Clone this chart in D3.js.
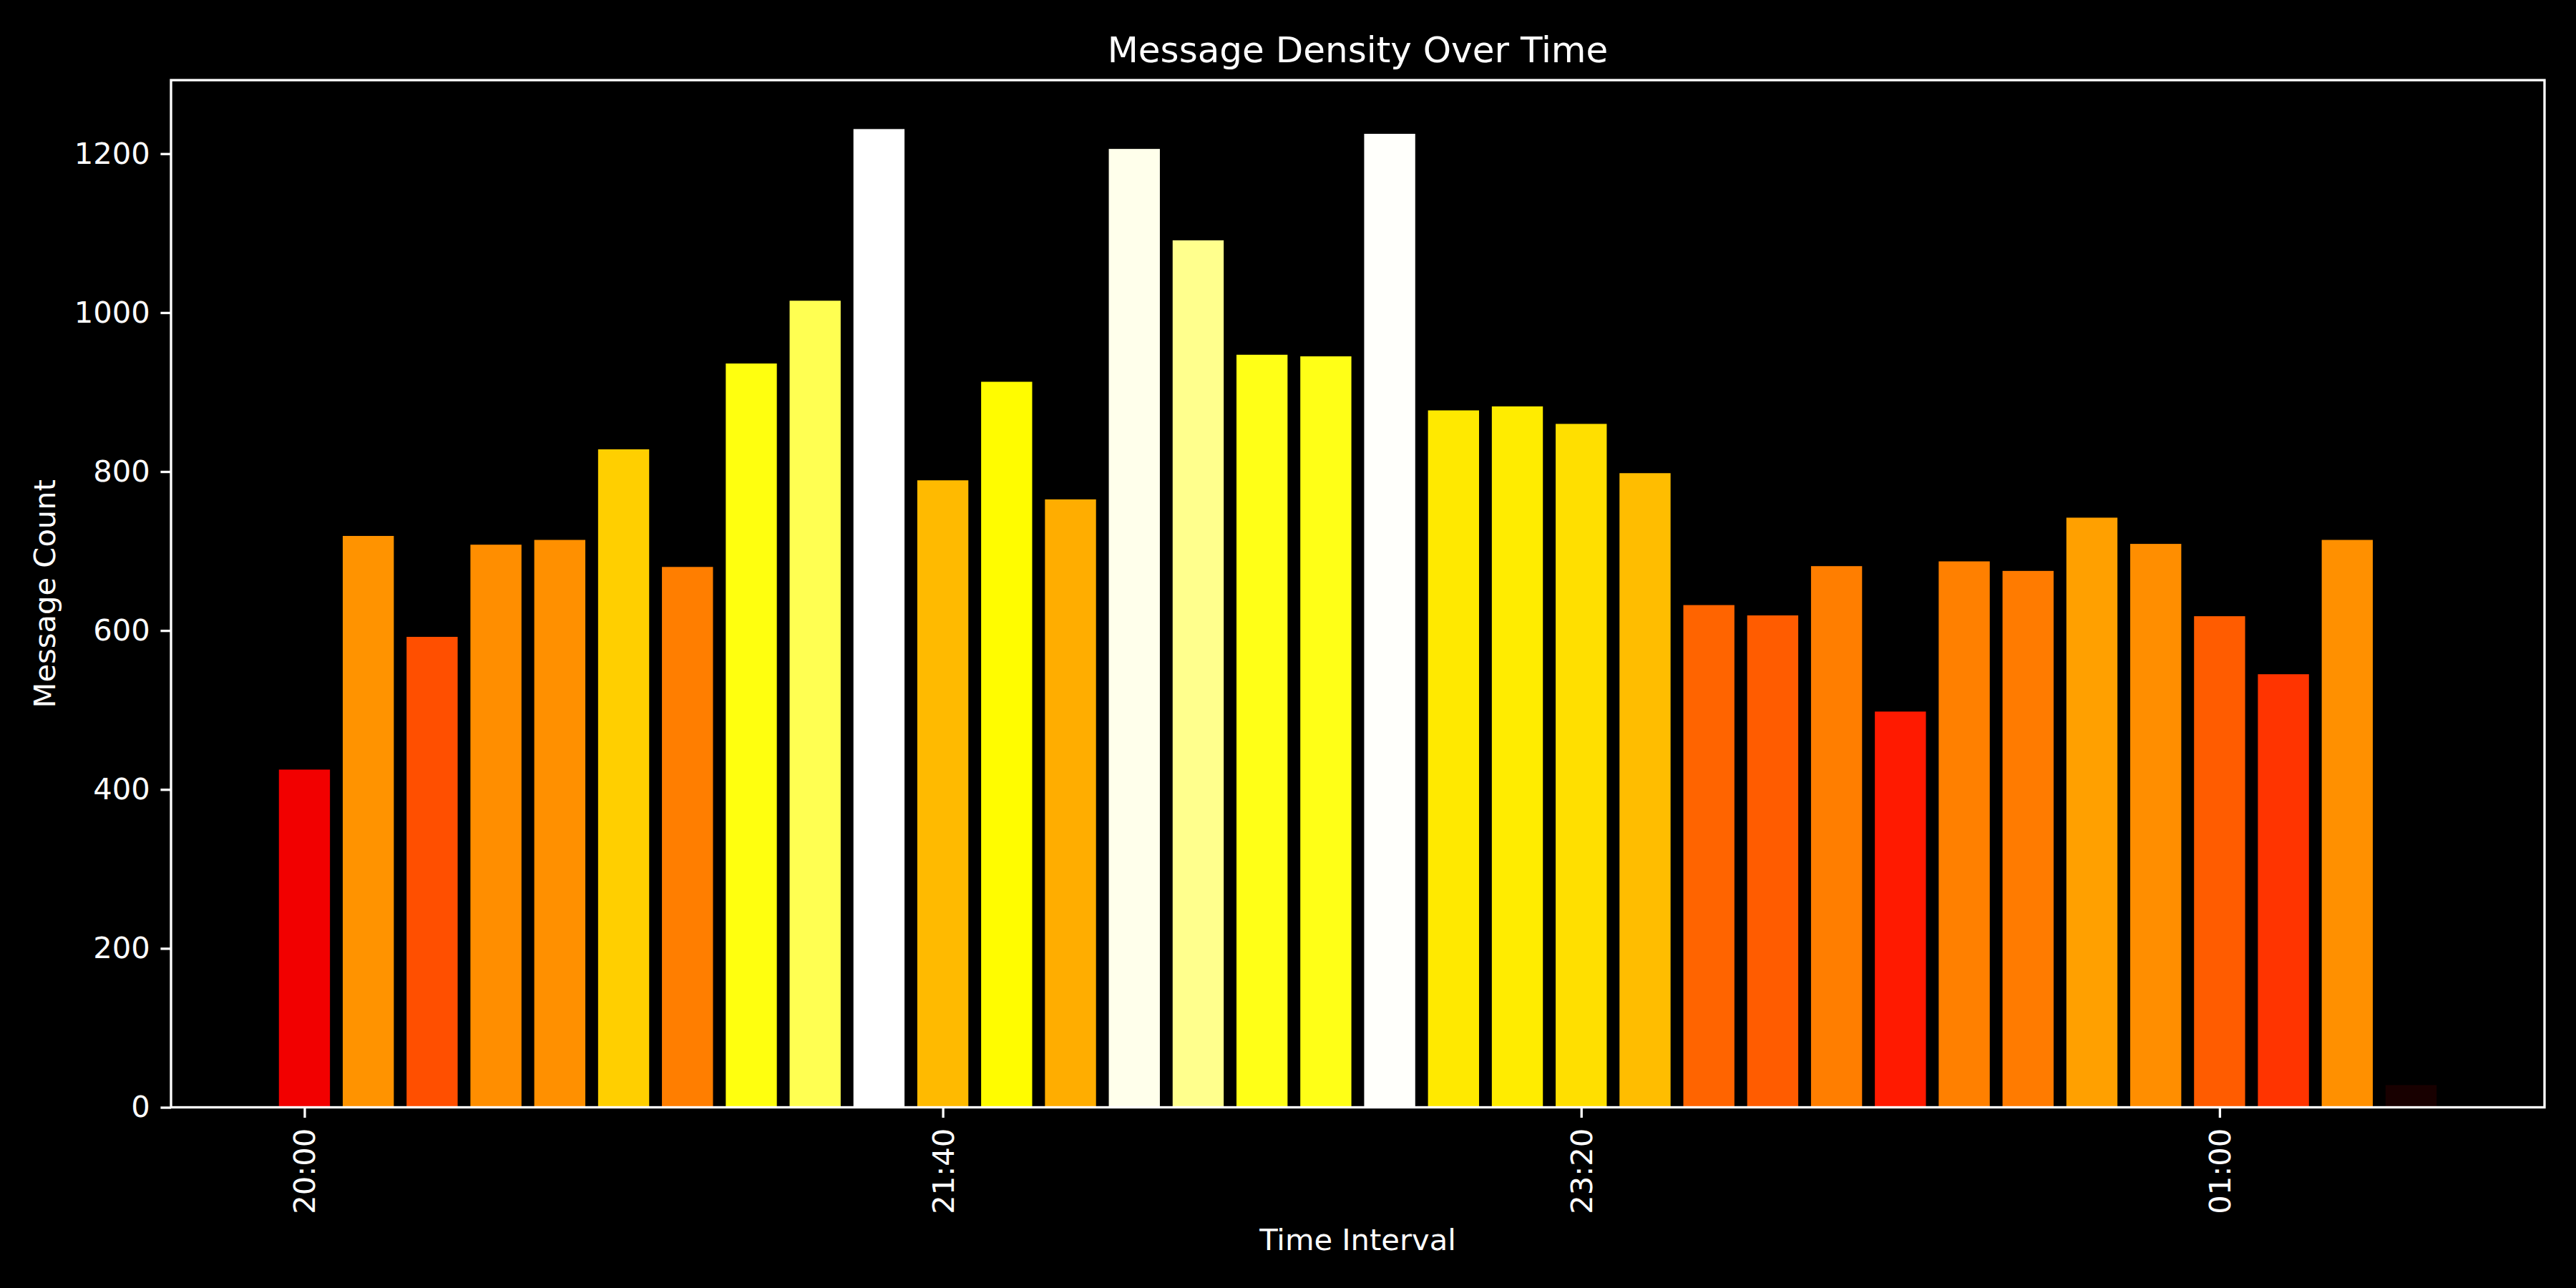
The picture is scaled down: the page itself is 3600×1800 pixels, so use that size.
<!DOCTYPE html>
<html>
<head>
<meta charset="utf-8">
<script src="https://cdn.jsdelivr.net/npm/d3@7"></script>
<style>
  body { margin: 0; background: #000; }
  text { font-family: "DejaVu Sans", sans-serif; fill: #fff; }
</style>
</head>
<body>
<div class="chart"></div>
<script>
// time buckets (10 minute intervals) and message counts
var timeLabels = ["20:00", "20:10", "20:20", "20:30", "20:40", "20:50",
  "21:00", "21:10", "21:20", "21:30", "21:40", "21:50",
  "22:00", "22:10", "22:20", "22:30", "22:40", "22:50",
  "23:00", "23:10", "23:20", "23:30", "23:40", "23:50",
  "00:00", "00:10", "00:20", "00:30", "00:40", "00:50",
  "01:00", "01:10", "01:20", "01:30"];
var messageCounts = [425, 719, 592, 708, 714, 828,
  680, 936, 1015, 1231, 789, 913,
  765, 1206, 1091, 947, 945, 1225,
  877, 882, 860, 798, 632, 619,
  681, 498, 687, 675, 742, 709,
  618, 545, 714, 28];
var xTickLabels = ["20:00", "21:40", "23:20", "01:00"];
var yTickValues = [0, 200, 400, 600, 800, 1000, 1200];

var svgWidth = 3600;
var svgHeight = 1800;
var margin = { top: 112, right: 44, bottom: 252.5, left: 239 };
var width = svgWidth - margin.left - margin.right;
var height = svgHeight - margin.top - margin.bottom;

var pt = 300 / 72; // matplotlib points -> px at 300 dpi

// parse HH:MM, times after midnight belong to the next day
var parseTime = d3.timeParse("%Y-%m-%d %H:%M");
function toDate(s) {
  var day = +s.slice(0, 2) < 12 ? "2024-01-02" : "2024-01-01";
  return parseTime(day + " " + s);
}
var data = timeLabels.map(function(t, i) {
  return { time: toDate(t), count: messageCounts[i] };
});

var step = 10 * 60 * 1000;
var first = data[0].time.getTime();
var last = data[data.length - 1].time.getTime();
// bar width 0.8 step, plus 5% margins on both sides like matplotlib
var pad = 0.4 * step + 0.05 * (last - first + 0.8 * step);

var xScale = d3.scaleTime()
  .domain([new Date(first - pad), new Date(last + pad)])
  .range([0, width]);

var maxCount = d3.max(messageCounts);
var yScale = d3.scaleLinear()
  .domain([0, maxCount * 1.05])
  .range([height, 0]);

// matplotlib "hot" colormap, 256 entries
var hotR = d3.scaleLinear().domain([0, 0.365079, 1]).range([0.0416, 1, 1]).clamp(true);
var hotG = d3.scaleLinear().domain([0, 0.365079, 0.746032, 1]).range([0, 0, 1, 1]).clamp(true);
var hotB = d3.scaleLinear().domain([0, 0.746032, 1]).range([0, 0, 1]).clamp(true);
function hot(t) {
  var i = Math.min(255, Math.floor(t * 256));
  var x = i / 255;
  return d3.rgb(Math.round(hotR(x) * 255), Math.round(hotG(x) * 255), Math.round(hotB(x) * 255)).toString();
}

var svg = d3.select(".chart")
  .append("svg")
  .attr("width", svgWidth)
  .attr("height", svgHeight)
  .style("background", "#000");

var chartGroup = svg.append("g")
  .attr("transform", `translate(${margin.left}, ${margin.top})`);

var barWidth = xScale(new Date(first + 0.8 * step)) - xScale(new Date(first));

chartGroup.selectAll("rect.bar")
  .data(data)
  .enter()
  .append("rect")
  .classed("bar", true)
  .attr("x", d => xScale(d.time) - barWidth / 2)
  .attr("y", d => yScale(d.count))
  .attr("width", barWidth)
  .attr("height", d => height - yScale(d.count))
  .attr("fill", d => hot(d.count / maxCount));

// axes
var tickLen = 3.5 * pt;
var tickW = 0.8 * pt;
var fontSize = 10 * pt;

var bottomAxis = d3.axisBottom(xScale)
  .tickValues(xTickLabels.map(toDate))
  .tickFormat(d3.timeFormat("%H:%M"))
  .tickSize(tickLen)
  .tickPadding(tickLen);

var xAxis = chartGroup.append("g")
  .classed("x-axis", true)
  .attr("transform", `translate(0, ${height})`)
  .call(bottomAxis);

xAxis.selectAll("text")
  .attr("y", 0)
  .attr("dy", null)
  .attr("transform", `translate(0, ${tickLen + 3.5 * pt}) rotate(-90)`)
  .attr("text-anchor", "end")
  .attr("dominant-baseline", "central");

var leftAxis = d3.axisLeft(yScale)
  .tickValues(yTickValues)
  .tickFormat(d3.format("d"))
  .tickSize(tickLen)
  .tickPadding(3.5 * pt);

var yAxis = chartGroup.append("g")
  .classed("y-axis", true)
  .call(leftAxis);

[xAxis, yAxis].forEach(function(ax) {
  ax.select(".domain").remove();
  ax.attr("font-size", fontSize).attr("font-family", "DejaVu Sans");
  ax.selectAll(".tick line").attr("stroke", "#fff").attr("stroke-width", tickW);
  ax.selectAll(".tick text").style("fill", "#fff");
});

// spines
chartGroup.append("rect")
  .attr("x", 0)
  .attr("y", 0)
  .attr("width", width)
  .attr("height", height)
  .attr("fill", "none")
  .attr("stroke", "#fff")
  .attr("stroke-width", tickW);

// title and labels
chartGroup.append("text")
  .attr("x", width / 2)
  .attr("y", -6 * pt)
  .attr("text-anchor", "middle")
  .attr("font-size", 12 * pt)
  .text("Message Density Over Time");

chartGroup.append("text")
  .attr("x", width / 2)
  .attr("y", height + 199)
  .attr("text-anchor", "middle")
  .attr("font-size", fontSize)
  .text("Time Interval");

chartGroup.append("text")
  .attr("transform", `translate(${-margin.left + 62}, ${height / 2}) rotate(-90)`)
  .attr("text-anchor", "middle")
  .attr("dominant-baseline", "central")
  .attr("font-size", fontSize)
  .text("Message Count");
</script>
</body>
</html>
